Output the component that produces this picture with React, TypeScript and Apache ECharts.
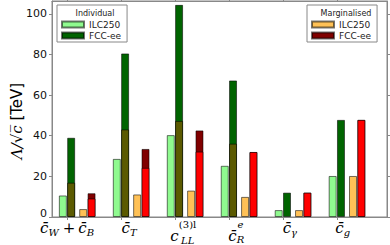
import React, { useEffect, useRef } from "react";
import * as echarts from "echarts";

// ---- data ----
const categories = ["cW+cB", "cT", "cLL(3)l", "cRe", "cgamma", "cg"];
const ilcIndividual = [10.6, 28.6, 40.3, 25.2, 3.4, 20.2];
const fccIndividual = [39.0, 80.5, 104.4, 67.2, 12.0, 47.8];
const fccIndividualLower = [16.9, 43.1, 47.3, 36.1, 0, 0];
const ilcMarginalised = [3.9, 11.1, 13.0, 9.9, 3.4, 20.2];
const fccMarginalised = [11.7, 33.5, 42.6, 32.0, 12.0, 47.8];
const fccMarginalisedLower = [9.1, 24.2, 32.2, 32.0, 12.0, 47.8];
const yTicks = [0, 20, 40, 60, 80, 100];
const xLabels = [
  "{c|c\u0304}{sub|W}{p|+}{c|c\u0304}{sub|B}",
  "{c|c\u0304}{sub|T}",
  "{sp| }{supA|(3)l}\n{c|c}{subA|LL}",
  "{sp| }{supB|e}\n{c|c\u0304}{subB|R}",
  "{c|c\u0304}{sub|\u03b3}",
  "{c|c\u0304}{sub|g}",
];
const legendIndividual = "Individual";
const legendMarginalised = "Marginalised";

const tickPos = categories.map((_, i) => i);
const labelPos = [0, 1.15, 2.16, 3.14, 4.13, 5.11];

const serif = "DejaVu Serif";
const sans = "DejaVu Sans";

function build(values: number[], offset: number) {
  return values.map((v, i) => (v > 0 ? [i + offset, v] : [i + offset, "-"]));
}

export default function App() {
  const ref = useRef<HTMLDivElement>(null);
  useEffect(() => {
    if (!ref.current) return;
    const chart = echarts.init(ref.current, undefined, { renderer: "svg" });
    const border = { borderColor: "rgba(0,0,0,0.55)", borderWidth: 1 };
    const barBase = {
      type: "bar",
      barWidth: 8,
      barGap: "-100%",
      xAxisIndex: 0,
      yAxisIndex: 0,
    };
    const xMin = -0.278;
    const xMax = 5.93;
    const yMax = 106.3;
    const axisLine = { show: true, onZero: false, lineStyle: { color: "#888" } };
    const rich = {
      c: { fontFamily: serif, fontStyle: "italic", fontSize: 15, lineHeight: 14, verticalAlign: "top", color: "#000" },
      p: { fontFamily: serif, fontSize: 15, lineHeight: 14, verticalAlign: "top", color: "#000", padding: [0, 3, 0, 4] },
      sub: { fontFamily: serif, fontStyle: "italic", fontSize: 10, lineHeight: 10, verticalAlign: "top", padding: [7, 0, 0, 0], color: "#000" },
      sp: { fontSize: 8, lineHeight: 8, width: 8 },
      supA: { fontFamily: serif, fontSize: 10, lineHeight: 8, width: 18, align: "left", color: "#000" },
      subA: { fontFamily: serif, fontStyle: "italic", fontSize: 10, lineHeight: 10, verticalAlign: "top", padding: [7, 0, 0, 0], width: 18, align: "left", color: "#000" },
      supB: { fontFamily: serif, fontStyle: "italic", fontSize: 10, lineHeight: 8, width: 8, align: "left", color: "#000" },
      subB: { fontFamily: serif, fontStyle: "italic", fontSize: 10, lineHeight: 10, verticalAlign: "top", padding: [6, 0, 0, 0], width: 8, align: "left", color: "#000" },
    };
    const legendCommon = {
      orient: "vertical",
      top: 5,
      padding: [15, 6, 2, 4],
      itemWidth: 22,
      itemHeight: 6,
      itemGap: 2,
      itemTextGap: 5,
      icon: "rect",
      selectedMode: false,
      borderColor: "#888",
      borderWidth: 1,
      backgroundColor: "#fff",
      textStyle: { fontFamily: sans, fontSize: 9, color: "#222" },
      formatter: (n: string) => n.split(" ").slice(1).join(" "),
    };
    chart.setOption({
      animation: false,
      backgroundColor: "#fff",
      grid: { left: 52, right: 3, top: 1, bottom: 26, show: true, borderColor: "#888", borderWidth: 1 },
      legend: [
        { ...legendCommon, left: 57, data: ["Individual ILC250", "Individual FCC-ee"] },
        { ...legendCommon, left: 307, data: ["Marginalised ILC250", "Marginalised FCC-ee"] },
      ],
      graphic: [
        { type: "text", x: 95, y: 13, z: 100, style: { text: legendIndividual, font: `8px ${sans}`, fill: "#222", align: "center", verticalAlign: "middle" } },
        { type: "text", x: 346, y: 13, z: 100, style: { text: legendMarginalised, font: `8px ${sans}`, fill: "#222", align: "center", verticalAlign: "middle" } },
        {
          type: "text",
          x: 17,
          y: 121,
          rotation: Math.PI / 2,
          style: {
            text: "{m|\u039b/\u221ac\u0305}{r| [TeV]}",
            align: "center",
            verticalAlign: "middle",
            rich: {
              m: { fontFamily: serif, fontStyle: "italic", fontSize: 15, fill: "#000" },
              r: { fontFamily: sans, fontSize: 15, fill: "#000" },
            },
          },
        },
      ],
      xAxis: [
        {
          type: "value",
          min: xMin,
          max: xMax,
          position: "bottom",
          axisLine,
          axisTick: { show: true, customValues: tickPos, length: 3, lineStyle: { color: "#888" } },
          splitLine: { show: false },
          axisLabel: {
            customValues: labelPos,
            margin: 3,
            formatter: (v: number) => {
              let best = 0;
              labelPos.forEach((p, i) => {
                if (Math.abs(p - v) < Math.abs(labelPos[best] - v)) best = i;
              });
              return xLabels[best];
            },
            rich,
          },
        },
        {
          type: "value",
          min: xMin,
          max: xMax,
          position: "top",
          axisLine,
          axisTick: { show: true, customValues: tickPos, length: 3, lineStyle: { color: "#888" } },
          splitLine: { show: false },
          axisLabel: { show: false },
        },
      ],
      yAxis: [
        {
          type: "value",
          min: 0,
          max: yMax,
          position: "left",
          axisLine,
          axisTick: { show: true, customValues: yTicks, length: 3, lineStyle: { color: "#888" } },
          splitLine: { show: false },
          axisLabel: {
            customValues: yTicks,
            margin: 5,
            formatter: (v: number) => (v === 0 ? `{z|${v}}` : `{a|${v}}`),
            rich: {
              a: { fontFamily: sans, fontSize: 11, color: "#111", lineHeight: 12 },
              z: { fontFamily: sans, fontSize: 11, color: "#111", lineHeight: 12, padding: [0, 0, 8, 0] },
            },
          },
        },
        {
          type: "value",
          min: 0,
          max: yMax,
          position: "right",
          axisLine,
          axisTick: { show: true, customValues: yTicks, length: 3, lineStyle: { color: "#888" } },
          splitLine: { show: false },
          axisLabel: { show: false },
        },
      ],
      series: [
        { ...barBase, name: "Individual ILC250", data: build(ilcIndividual, -0.077), itemStyle: { color: "#8ffa8f", ...border } },
        { ...barBase, name: "Individual FCC-ee", data: build(fccIndividual, 0.077), itemStyle: { color: "#006400", ...border } },
        { ...barBase, name: "Individual FCC-ee lower", data: build(fccIndividualLower, 0.077), itemStyle: { color: "#5b5a00", ...border } },
        { ...barBase, name: "Marginalised ILC250", data: build(ilcMarginalised, 0.3), itemStyle: { color: "#ffc156", ...border } },
        { ...barBase, name: "Marginalised FCC-ee", data: build(fccMarginalised, 0.455), itemStyle: { color: "#800000", ...border } },
        { ...barBase, name: "Marginalised FCC-ee lower", data: build(fccMarginalisedLower, 0.455), itemStyle: { color: "#ff0000", ...border } },
      ],
    });
    return () => chart.dispose();
  }, []);
  return <div ref={ref} style={{ position: "fixed", left: 0, top: 0, width: 390, height: 245 }} />;
}
